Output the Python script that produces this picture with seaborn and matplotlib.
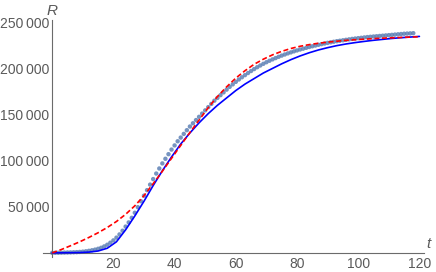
import numpy as np
import pandas as pd
import matplotlib
matplotlib.use('Agg')
import matplotlib.pyplot as plt
from matplotlib.ticker import MultipleLocator, FuncFormatter
import seaborn as sns

# ─── DATA ────────────────────────────────────────────────────────────────────
# observed cumulative counts, one per day t = 0 .. 118
obs_t = np.arange(0, 119)
obs_R = [
    0, 50, 100, 200, 300, 400, 500, 650, 800, 1000,
    1300, 1700, 2200, 2800, 3500, 4400, 5500, 7000, 8800, 11000,
    13500, 16500, 20000, 24000, 28500, 33000, 38000, 43500, 49500, 56000,
    62000, 68000, 74000, 80000, 86000, 91500, 97000, 102000, 107000, 112000,
    116500, 121000, 125000, 129000, 133000, 137000, 140500, 144000, 147500, 151000,
    154500, 158000, 161500, 165000, 168000, 171000, 174000, 177000, 180000, 182700,
    185400, 188000, 190400, 192700, 195000, 197200, 199300, 201300, 203200, 205000,
    206700, 208300, 209800, 211200, 212600, 213900, 215100, 216300, 217400, 218500,
    219500, 220500, 221400, 222300, 223200, 224000, 224800, 225600, 226300, 227000,
    227700, 228300, 228900, 229500, 230000, 230500, 231000, 231500, 232000, 232400,
    232800, 233200, 233600, 234000, 234300, 234600, 234900, 235200, 235500, 235800,
    236100, 236400, 236700, 237000, 237300, 237600, 237800, 238000, 238200,
]

# model curves sampled every 3 days, t = 0 .. 120
model_t = np.arange(0, 121, 3)
blue_R = [
    0, 50, 150, 300, 800, 2000, 5000, 12000, 25000, 40000,
    56000, 73000, 89000, 104000, 118000, 130000, 141000, 151000, 160000, 168000,
    176000, 183000, 189000, 195000, 200000, 205000, 209500, 213500, 217000, 220000,
    222500, 224700, 226500, 228000, 229300, 230500, 231500, 232500, 233300, 234000,
    234700,
]
red_R = [
    0, 3600, 7700, 12000, 16700, 21800, 27500, 34000, 41800, 51000,
    62000, 75000, 88500, 102500, 116500, 130500, 144000, 157500, 169500, 180000,
    189500, 197500, 204500, 210000, 214700, 218500, 221600, 224000, 225800, 227300,
    228500, 229500, 230400, 231100, 231700, 232300, 232800, 233200, 233600, 234000,
    234300,
]

obs = pd.DataFrame({'t': obs_t, 'R': obs_R})
blue = pd.DataFrame({'t': model_t, 'R': blue_R})
red = pd.DataFrame({'t': model_t, 'R': red_R})

# ─── STYLE ───────────────────────────────────────────────────────────────────
sns.set_theme(style='white')
plt.rcParams['font.family'] = ['Liberation Sans', 'DejaVu Sans']
AXIS_GRAY = '#6b6b6b'
TEXT_GRAY = '#5a5a5a'

fig = plt.figure(figsize=(4.36, 2.72), dpi=100)
ax = fig.add_axes([43 / 436, 15 / 272, (424 - 43) / 436, (252 - 15) / 272])

sns.scatterplot(data=obs, x='t', y='R', ax=ax, color='#5e81b5', alpha=0.85,
                s=10, edgecolor='none', zorder=2)
sns.lineplot(data=blue, x='t', y='R', ax=ax, color='#0000ff', lw=1.2, zorder=3)
sns.lineplot(data=red, x='t', y='R', ax=ax, color='#ff0000', lw=1.2,
             dashes=(3.0, 1.6), zorder=4)

ax.set_xlim(-3, 121.5)
ax.set_ylim(-4500, 252500)

# Mathematica-like axes crossing at the origin
for side in ['top', 'right']:
    ax.spines[side].set_visible(False)
ax.spines['left'].set_position(('data', 0))
ax.spines['bottom'].set_position(('data', 0))
for side in ['left', 'bottom']:
    ax.spines[side].set_color(AXIS_GRAY)
    ax.spines[side].set_linewidth(0.8)

ax.xaxis.set_major_locator(MultipleLocator(20))
ax.xaxis.set_minor_locator(MultipleLocator(5))
ax.yaxis.set_major_locator(MultipleLocator(50000))
ax.yaxis.set_minor_locator(MultipleLocator(10000))

def fmt_x(v, pos):
    return '' if v <= 0 else f'{v:.0f}'

def fmt_y(v, pos):
    return '' if v <= 0 else f'{v:,.0f}'.replace(',', '\u2009')

ax.xaxis.set_major_formatter(FuncFormatter(fmt_x))
ax.yaxis.set_major_formatter(FuncFormatter(fmt_y))

ax.tick_params(which='major', direction='in', length=4, width=0.7,
               color=AXIS_GRAY, labelcolor=TEXT_GRAY, labelsize=10, pad=2)
ax.tick_params(which='minor', direction='in', length=2.2, width=0.6,
               color=AXIS_GRAY)
ax.tick_params(axis='x', which='both', pad=3)

ax.set_xlabel('')
ax.set_ylabel('')
ax.grid(False)

# axis names at the ends of the axes
ax.text(0, 1.01, 'R', transform=ax.get_xaxis_transform(),
        ha='center', va='bottom', fontsize=11, style='italic', color=TEXT_GRAY)
ax.text(1.005, 2000, 't', transform=ax.get_yaxis_transform(),
        ha='left', va='bottom', fontsize=11, style='italic', color=TEXT_GRAY)

fig.savefig('out.png', dpi=100)
